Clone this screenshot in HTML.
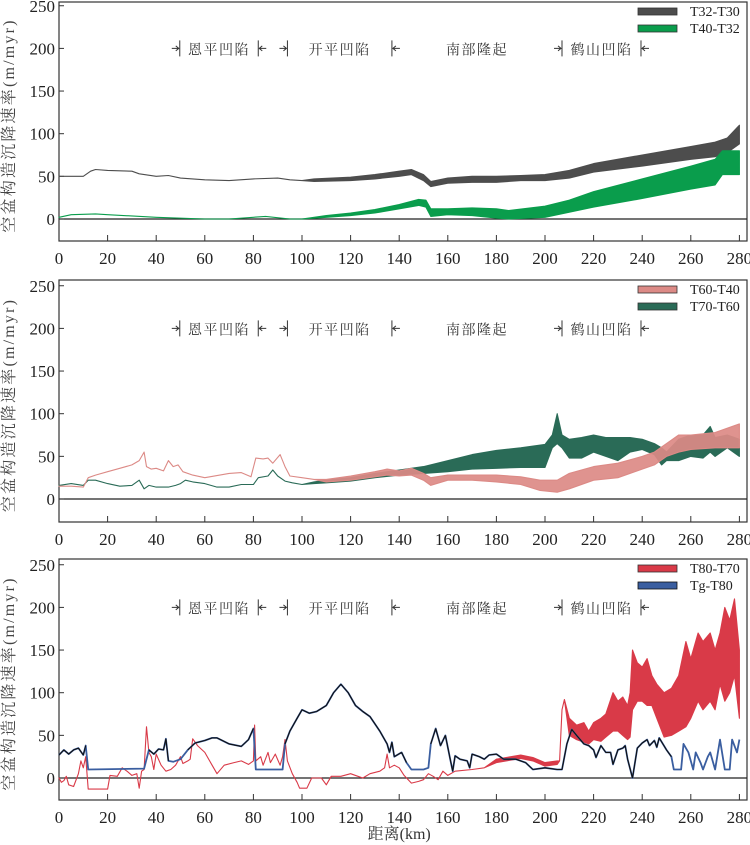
<!DOCTYPE html>
<html><head><meta charset="utf-8">
<style>
body{margin:0;background:#fff;}
svg{display:block;font-family:"Liberation Serif","Noto Serif CJK SC",serif;}
</style></head>
<body>
<svg id="chart" width="750" height="845" viewBox="0 0 750 845" xmlns="http://www.w3.org/2000/svg"></svg>
<script>
// ---- data ----
const xTicks = [0,20,40,60,80,100,120,140,160,180,200,220,240,260,280];
const yTicks = [0,50,100,150,200,250];
const regionNames = ["恩平凹陷","开平凹陷","南部隆起","鹤山凹陷"];
const regionStarts = [49.7, 94, 137, 207];
const regionEnds = [82, 137, 207, 239.5];
const regionBracketed = [1,1,0,1];

// Panel 1
const t32X  = [0,10,13,15,20,30,33,40,45,50,60,70,80,90,95,100,105,120,130,140,145,150,153,160,170,180,190,200,210,220,240,260,270,275,280];
const t32Lo = [50,50,56,58,57,56,53,50,51,48,46,45,47,48,46,45,44,45,47,50,52,45,38,42,43,43,45,45,48,55,62,70,73,78,88];
const t32Hi = [50,50,56,58,57,56,53,50,51,48,46,45,47,48,46,45,47,49,52,56,58,52,44,48,50,50,51,52,57,65,75,85,90,95,110];
const t40X  = [0,5,15,20,40,60,70,85,95,100,110,120,130,140,148,151,153,160,170,180,185,200,210,220,240,260,270,273,280];
const t40Lo = [2,5,6,5,2,0,0,3,0,0,2,4,7,12,16,14,3,5,4,1,0,2,8,14,24,35,40,52,52];
const t40Hi = [2,5,6,5,2,0,0,3,0,0,4,7,11,17,23,22,12,12,13,12,10,15,22,32,47,62,70,80,80];

// Panel 2
const t60X  = [0,5,10,12,15,20,25,30,33,35,36,38,40,43,45,47,49,51,55,60,70,75,79,81,84,86,88,91,93,95,100,105,110,120,130,135,140,145,150,153,160,170,180,190,198,205,210,220,230,240,245,250,255,260,270,280];
const t60Lo = [15,15,14,25,28,32,36,40,45,55,38,35,36,33,45,38,40,32,28,25,30,31,26,48,47,48,42,52,38,27,25,23,20,22,26,28,27,28,22,16,22,22,20,17,10,8,12,22,25,35,40,50,55,58,60,60];
const t60Hi = [15,15,14,25,28,32,36,40,45,55,38,35,36,33,45,38,40,32,28,25,30,31,26,48,47,48,42,52,38,27,25,23,23,27,32,35,33,36,30,25,28,28,28,26,22,22,30,38,42,50,55,65,75,75,78,88];
const t70X  = [0,5,10,12,15,20,25,30,33,35,37,40,45,48,50,52,55,60,65,70,75,80,82,86,88,90,93,96,100,105,110,120,130,140,150,160,170,180,190,200,203,205,207,210,215,220,225,230,235,240,245,248,250,255,260,265,268,270,275,280];
const t70Lo = [16,18,16,22,22,18,15,16,22,12,16,14,14,16,18,22,20,18,14,14,17,17,25,27,34,27,21,19,17,18,19,21,25,28,30,32,35,36,37,37,60,65,60,48,48,55,50,45,55,58,52,40,45,45,50,48,55,50,60,50];
const t70Hi = [16,18,16,22,22,18,15,16,22,12,16,14,14,16,18,22,20,18,14,14,17,17,25,27,34,27,21,19,17,20,22,25,30,34,38,45,52,57,60,64,75,100,75,70,72,75,72,72,72,70,65,60,55,70,75,75,85,72,75,70];

// Panel 3
const t80X  = [0,1,2,3,4,6,8,9,10,11,12,20,21,24,26,28,30,32,33,34,35,36,37,38,39,40,42,44,46,48,50,51,53,54,55,57,60,63,65,68,72,75,78,80,80.5,81,83,84,86,87,89,91,92,93,94,96,98,99,102,104,108,110,112,116,120,123,125,128,132,134,135,136,138,140,142,145,148,150,152,154,156,158,160,163,170,175,180,190,195,200,205,206,207,208,210,213,216,218,220,223,225,228,230,232,234,235,236,238,240,242,244,246,249,252,255,258,260,263,265,268,270,272,274,276,278,280];
const t80Lo = [0,-5,-3,2,-8,-10,5,20,12,25,-13,-13,3,2,12,8,3,5,-12,8,10,60,30,25,10,28,15,8,10,15,25,17,20,22,46,38,30,15,5,15,18,20,16,20,62,20,25,15,30,18,28,15,25,45,20,5,-5,-12,-12,0,0,-8,2,2,5,2,0,5,8,12,28,12,15,12,3,-6,-4,-2,5,2,-2,8,3,8,10,12,18,23,20,14,16,20,80,92,50,45,42,40,45,43,48,55,55,50,45,48,80,90,90,85,85,70,48,50,55,60,70,90,80,90,80,110,90,100,120,70];
const t80Hi = [0,-5,-3,2,-8,-10,5,20,12,25,-13,-13,3,2,12,8,3,5,-12,8,10,60,30,25,10,28,15,8,10,15,25,17,20,22,46,38,30,15,5,15,18,20,16,20,62,20,25,15,30,18,28,15,25,45,20,5,-5,-12,-12,0,0,-8,2,2,5,2,0,5,8,12,28,12,15,12,3,-6,-4,-2,5,2,-2,8,3,8,10,12,22,27,24,18,20,20,80,92,70,62,65,55,65,70,75,100,90,95,85,100,150,135,130,140,120,110,100,105,120,160,140,170,160,170,150,170,200,185,210,150];
const tgX = [0,2,4,6,8,10,11,12,35,37,39,41,43,44,45,47,50,53,56,60,63,65,70,75,78,80,81,92,93,95,98,100,103,106,110,113,116,119,122,125,128,132,135,136,137,138,141,143,145,150,152,153,155,157,159,161,162,163,165,168,169,170,173,175,177,180,183,188,192,195,200,205,207,209,211,213,216,218,220,221,223,225,227,228,230,232,233,234,236,238,240,242,243,245,246,247,250,252,253,256,257,259,261,262,264,265,267,268,270,272,274,276,277,279,280];
const tgY = [27,33,28,33,35,27,38,10,11,33,28,34,33,46,20,19,22,33,41,44,47,47,40,37,45,58,10,10,40,55,70,80,76,78,85,100,110,100,85,78,72,55,40,30,42,25,30,18,10,10,12,40,58,38,50,22,8,26,22,20,12,28,25,22,27,28,22,22,18,10,12,10,10,40,57,50,40,38,33,24,38,30,30,16,33,35,38,22,0,35,41,45,38,44,36,47,33,25,10,10,40,30,10,30,18,10,25,30,10,45,10,10,45,30,45];
const tgBlack = [1,1,1,1,1,1,1,0,0,1,1,1,1,1,1,0,0,1,1,1,1,1,1,1,1,1,0,0,1,1,1,1,1,1,1,1,1,1,1,1,1,1,1,1,1,1,1,1,0,0,0,1,1,1,1,1,1,1,1,1,1,1,1,1,1,1,1,1,1,1,1,1,1,1,1,1,1,1,1,1,1,1,1,1,1,1,1,1,1,1,1,1,1,1,1,1,1,1,0,0,0,0,0,0,0,0,0,0,0,0,0,0,0,0,0];

// ---- drawing ----
const NS = "http://www.w3.org/2000/svg";
const svg = document.getElementById("chart");
const X0 = 59, KX = 2.43, KY = 0.853, LEFT = 59, RIGHT = 747;
function sx(v){ return X0 + v*KX; }
function mk(tag, attrs, parent){
  const e = document.createElementNS(NS, tag);
  for (const k in attrs) e.setAttribute(k, attrs[k]);
  (parent||svg).appendChild(e);
  return e;
}
function band(g, sy, xs, lo, hi, color, name, op){
  let pts = [];
  for (let i=0;i<xs.length;i++) pts.push(sx(xs[i]).toFixed(1)+","+sy(hi[i]).toFixed(1));
  for (let i=xs.length-1;i>=0;i--) pts.push(sx(xs[i]).toFixed(1)+","+sy(lo[i]).toFixed(1));
  const p = mk("polygon",{points:pts.join(" "),fill:color,stroke:color,"stroke-width":1.1,"stroke-linejoin":"round","fill-opacity":op||1},g);
  
  
}
function panel(idx, top, y0, bottom, legend){
  const g = mk("g",{});
  
  
  const sy = v => y0 - v*KY;
  const fr = mk("rect",{x:LEFT,y:top,width:RIGHT-LEFT,height:bottom-top,fill:"none",stroke:"#333","stroke-width":1.2},g);
  
  
  const zl = mk("line",{x1:LEFT,x2:RIGHT,y1:y0,y2:y0,stroke:"#222","stroke-width":1.2},g);
  
  
  yTicks.forEach(t=>{
    mk("line",{x1:LEFT,x2:LEFT+5,y1:sy(t),y2:sy(t),stroke:"#333"},g);
    const tx = mk("text",{x:LEFT-4,y:sy(t)+6,"text-anchor":"end","font-size":17,fill:"#222"},g);
    tx.textContent = t;
    
    
  });
  xTicks.forEach(t=>{
    if (t>0) mk("line",{x1:sx(t),x2:sx(t),y1:bottom,y2:bottom-6,stroke:"#333"},g);
    const tx = mk("text",{x:sx(t),y:bottom+23,"text-anchor":"middle","font-size":17,fill:"#222"},g);
    tx.textContent = t;
    
    
  });
  const yt = mk("text",{x:0,y:0,"font-size":16,"letter-spacing":2.2,fill:"#444","text-anchor":"middle",transform:"translate(14,"+((top+bottom)/2+4)+") rotate(-90)"},g);
  yt.textContent = "空盆构造沉降速率(m/myr)";
  
  
  const ry = sy(200);
  for (let i=0;i<regionNames.length;i++){
    const a = sx(regionStarts[i]), b = sx(regionEnds[i]);
    if (regionBracketed[i]) {
      mk("line",{x1:a,x2:a,y1:ry-8,y2:ry+8,stroke:"#333"},g);
      mk("line",{x1:b,x2:b,y1:ry-8,y2:ry+8,stroke:"#333"},g);
      mk("path",{d:`M${a-8} ${ry}H${a-1}M${a-4} ${ry-2.5}L${a-1} ${ry}L${a-4} ${ry+2.5}`,stroke:"#333",fill:"none"},g);
      mk("path",{d:`M${b+8} ${ry}H${b+1}M${b+4} ${ry-2.5}L${b+1} ${ry}L${b+4} ${ry+2.5}`,stroke:"#333",fill:"none"},g);
    }
    const tx = mk("text",{x:(a+b)/2,y:ry+6,"text-anchor":"middle","font-size":14,"letter-spacing":1.5,fill:"#333"},g);
    tx.textContent = regionNames[i];
    
    
  }
  legend.forEach((l,i)=>{
    const ly = top + 9 + i*17;
    const sw = mk("rect",{x:638,y:ly-3,width:39,height:7,fill:l[1],stroke:l[2]||"#333","stroke-width":0.8},g);
    
    
    const tx = mk("text",{x:690,y:ly+5,"font-size":14,fill:"#222"},g);
    tx.textContent = l[0];
    
    
  });
  return {g, sy};
}

let P = panel(1, 2, 219, 241, [["T32-T30","#4d4d4d"],["T40-T32","#0a9d4c"]]);
band(P.g, P.sy, t32X, t32Lo, t32Hi, "#4d4d4d", "series-t32-t30");
band(P.g, P.sy, t40X, t40Lo, t40Hi, "#0a9d4c", "series-t40-t32");

P = panel(2, 280, 499, 522, [["T60-T40","#dc8a86"],["T70-T60","#2a6b57"]]);
band(P.g, P.sy, t70X, t70Lo, t70Hi, "#2a6b57", "series-t70-t60");
band(P.g, P.sy, t60X, t60Lo, t60Hi, "#dc8a86", "series-t60-t40", 0.92);

P = panel(3, 559, 778, 800, [["T80-T70","#d93a48"],["Tg-T80","#3a5ea0","#111"]]);
band(P.g, P.sy, t80X, t80Lo, t80Hi, "#d93a48", "series-t80-t70");
{
  let pts = tgX.map((x,i)=>sx(x).toFixed(1)+","+P.sy(tgY[i]).toFixed(1)).join(" ");
  const bl = mk("polyline",{points:pts,fill:"none",stroke:"#3a5ea0","stroke-width":1.8,"stroke-linejoin":"round"},P.g);
  
  
  let d = "";
  for (let i=1;i<tgX.length;i++){
    if (tgBlack[i-1] && tgBlack[i]) d += `M${sx(tgX[i-1]).toFixed(1)} ${P.sy(tgY[i-1]).toFixed(1)}L${sx(tgX[i]).toFixed(1)} ${P.sy(tgY[i]).toFixed(1)}`;
  }
  const bk = mk("path",{d:d,fill:"none",stroke:"#111","stroke-width":1.1,"stroke-linejoin":"round"},P.g);
  
  
}
const xt = mk("text",{x:sx(140),y:839,"text-anchor":"middle","font-size":16,fill:"#333"});
xt.textContent = "距离(km)";


</script>
</body></html>
